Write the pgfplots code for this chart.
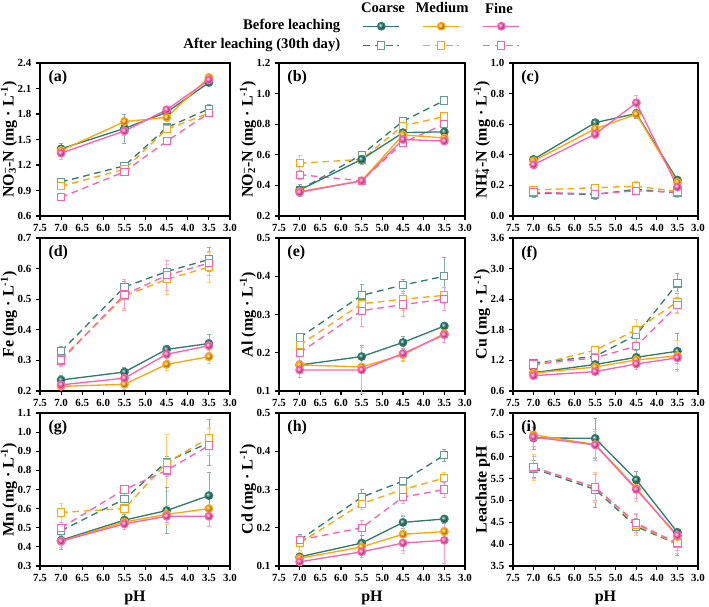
\documentclass[border=0pt]{standalone}
\usepackage{fontspec}
\setmainfont{Liberation Serif}
\usepackage{graphicx}
\usepackage{pgfplots}
\pgfplotsset{compat=1.18}
\definecolor{coarse}{RGB}{46,125,110}
\definecolor{medium}{RGB}{255,165,10}
\definecolor{fine}{RGB}{255,95,175}
\newcommand\lt[1]{{\bfseries\fontsize{11}{12}\selectfont #1}}
\pgfplotsset{
  panel/.style={scale only axis, height=114.75pt, x dir=reverse, xmin=3, xmax=7.5,
    xtick={3,3.5,...,7.5}, axis line style={line width=1.1pt}, tick style={line width=0.8pt, black},
    tick align=outside, tick pos=left, major tick length=3pt,
    /pgf/number format/assume math mode=true,
    xticklabel style={/pgf/number format/.cd, fixed, fixed zerofill, precision=1},
    yticklabel style={/pgf/number format/.cd, fixed, fixed zerofill, precision=1},
    tick label style={font=\bfseries\fontsize{8.2}{9}\selectfont},
    label style={font=\bfseries\fontsize{12}{13}\selectfont},
    ylabel style={yshift=-6.5pt},
    clip=false},
  bl/.style={line width=1pt, mark=ball, mark size=2.8pt},
  al/.style={line width=1pt, dash pattern=on 5pt off 3.5pt, mark=square*, mark size=2.7pt},
  eb/.style={error bars/.cd, y dir=both, y explicit,
    error bar style={line width=0.5pt, draw=#1!60, solid},
    error mark options={rotate=90, mark size=1.5pt, draw=#1!60, solid}},
  cbl/.style={bl, coarse, mark options={ball color=coarse}},
  mbl/.style={bl, medium, mark options={ball color=medium}},
  fbl/.style={bl, fine, mark options={ball color=fine}},
  cal/.style={al, coarse, mark options={solid, fill=white, draw=coarse!75, line width=0.8pt}},
  mal/.style={al, medium, mark options={solid, fill=white, draw=medium, line width=0.8pt}},
  fal/.style={al, fine, mark options={solid, fill=white, draw=fine, line width=0.8pt}},
  cb/.style={cbl, eb=coarse}, mb/.style={mbl, eb=medium}, fb/.style={fbl, eb=fine},
  ca/.style={cal, eb=coarse}, ma/.style={mal, eb=medium}, fa/.style={fal, eb=fine},
}
\begin{document}
\begin{tikzpicture}
\useasboundingbox (0,0) rectangle (531.75pt,454.5pt);
% legend
\begin{axis}[at={(0,0)}, anchor=south west, scale only axis, width=531.75pt, height=454.5pt,
  xmin=0, xmax=709, ymin=0, ymax=606, y dir=reverse, hide axis, clip=false,
  legend columns=3,
  legend image code/.code={\draw[mark repeat=2,mark phase=2] plot coordinates {(0pt,0pt) (13.5pt,0pt) (27pt,0pt)};},
  legend style={at={(axis cs:442,35.5)}, anchor=center, draw=none, fill=none,
    nodes={inner sep=0pt}, column sep=0pt, row sep=8.5pt,
    /tikz/every even column/.append style={column sep=16pt}}]
\addlegendimage{cbl}\addlegendentry{}
\addlegendimage{mbl}\addlegendentry{}
\addlegendimage{fbl}\addlegendentry{}
\addlegendimage{cal}\addlegendentry{}
\addlegendimage{mal}\addlegendentry{}
\addlegendimage{fal}\addlegendentry{}
\node at (axis cs:383,8) {\lt{Coarse}};
\node at (axis cs:442,8) {\lt{Medium}};
\node at (axis cs:499,8) {\lt{Fine}};
\node[anchor=east] at (axis cs:345,26) {\lt{Before leaching}};
\node[anchor=east] at (axis cs:345,45) {\lt{After leaching (30th day)}};
\end{axis}
% (a)
\begin{axis}[panel, at={(30pt,292.5pt)}, anchor=south west, width=142.5pt,
  ymin=0.6, ymax=2.4, ytick={0.6,0.9,...,2.4},
  ylabel={NO\rlap{\textsubscript{3}}\textsuperscript{--}-N (mg · L\textsuperscript{-1})}]
\addplot[ca] coordinates {(7,1.00)+-(0,0.02) (5.5,1.19)+-(0,0.02) (4.5,1.64)+-(0,0.04) (3.5,1.86)+-(0,0.05)};
\addplot[ma] coordinates {(7,0.95)+-(0,0.02) (5.5,1.15)+-(0,0.02) (4.5,1.62)+-(0,0.04) (3.5,1.81)+-(0,0.02)};
\addplot[fa] coordinates {(7,0.82)+-(0,0.02) (5.5,1.12)+-(0,0.02) (4.5,1.48)+-(0,0.02) (3.5,1.81)+-(0,0.02)};
\addplot[cb] coordinates {(7,1.39)+-(0,0.07) (5.5,1.63)+-(0,0.17) (4.5,1.82)+-(0,0.04) (3.5,2.17)+-(0,0.03)};
\addplot[mb] coordinates {(7,1.37)+-(0,0.05) (5.5,1.71)+-(0,0.05) (4.5,1.76)+-(0,0.05) (3.5,2.23)+-(0,0.03)};
\addplot[fb] coordinates {(7,1.34)+-(0,0.07) (5.5,1.60)+-(0,0.05) (4.5,1.85)+-(0,0.03) (3.5,2.20)+-(0,0.04)};
\node[anchor=north west, font=\bfseries\fontsize{12}{13}\selectfont] at (rel axis cs:0.02,0.98) {(a)};
\end{axis}
% (b)
\begin{axis}[panel, at={(209.25pt,292.5pt)}, anchor=south west, width=139.5pt,
  ymin=0.2, ymax=1.2, ytick={0.2,0.4,...,1.2},
  ylabel={NO\rlap{\textsubscript{2}}\textsuperscript{--}-N (mg · L\textsuperscript{-1})}]
\addplot[ca] coordinates {(7,0.37)+-(0,0.02) (5.5,0.60)+-(0,0.02) (4.5,0.82)+-(0,0.02) (3.5,0.955)+-(0,0.02)};
\addplot[ma] coordinates {(7,0.545)+-(0,0.05) (5.5,0.57)+-(0,0.02) (4.5,0.79)+-(0,0.02) (3.5,0.85)+-(0,0.03)};
\addplot[fa] coordinates {(7,0.47)+-(0,0.03) (5.5,0.43)+-(0,0.02) (4.5,0.68)+-(0,0.02) (3.5,0.80)+-(0,0.02)};
\addplot[cb] coordinates {(7,0.37)+-(0,0.04) (5.5,0.57)+-(0,0.03) (4.5,0.745)+-(0,0.03) (3.5,0.75)+-(0,0.02)};
\addplot[mb] coordinates {(7,0.36)+-(0,0.02) (5.5,0.43)+-(0,0.02) (4.5,0.73)+-(0,0.02) (3.5,0.71)+-(0,0.02)};
\addplot[fb] coordinates {(7,0.355)+-(0,0.02) (5.5,0.43)+-(0,0.02) (4.5,0.70)+-(0,0.02) (3.5,0.69)+-(0,0.02)};
\node[anchor=north west, font=\bfseries\fontsize{12}{13}\selectfont] at (rel axis cs:0.02,0.98) {(b)};
\end{axis}
% (c)
\begin{axis}[panel, at={(384.75pt,292.5pt)}, anchor=south west, width=138.75pt,
  ymin=0, ymax=1.0, ytick={0,0.2,...,1.0},
  ylabel={NH\rlap{\textsubscript{4}}\textsuperscript{+}-N (mg · L\textsuperscript{-1})}]
\addplot[ca] coordinates {(7,0.15)+-(0,0.03) (5.5,0.14)+-(0,0.03) (4.5,0.175)+-(0,0.03) (3.5,0.15)+-(0,0.03)};
\addplot[ma] coordinates {(7,0.17)+-(0,0.01) (5.5,0.185)+-(0,0.01) (4.5,0.195)+-(0,0.03) (3.5,0.16)+-(0,0.01)};
\addplot[fa] coordinates {(7,0.155)+-(0,0.01) (5.5,0.145)+-(0,0.03) (4.5,0.165)+-(0,0.02) (3.5,0.155)+-(0,0.03)};
\addplot[cb] coordinates {(7,0.37)+-(0,0.02) (5.5,0.61)+-(0,0.01) (4.5,0.67)+-(0,0.03) (3.5,0.235)+-(0,0.02)};
\addplot[mb] coordinates {(7,0.36)+-(0,0.02) (5.5,0.57)+-(0,0.01) (4.5,0.665)+-(0,0.02) (3.5,0.22)+-(0,0.02)};
\addplot[fb] coordinates {(7,0.335)+-(0,0.02) (5.5,0.535)+-(0,0.03) (4.5,0.74)+-(0,0.05) (3.5,0.19)+-(0,0.02)};
\node[anchor=north west, font=\bfseries\fontsize{12}{13}\selectfont] at (rel axis cs:0.02,0.98) {(c)};
\end{axis}
% (d)
\begin{axis}[panel, at={(30pt,161.25pt)}, anchor=south west, width=142.5pt,
  ymin=0.2, ymax=0.7, ytick={0.2,0.3,...,0.7},
  ylabel={Fe (mg · L\textsuperscript{-1})}]
\addplot[ca] coordinates {(7,0.330)+-(0,0.015) (5.5,0.540)+-(0,0.02) (4.5,0.590)+-(0,0.01) (3.5,0.630)+-(0,0.04)};
\addplot[ma] coordinates {(7,0.305)+-(0,0.02) (5.5,0.510)+-(0,0.04) (4.5,0.565)+-(0,0.05) (3.5,0.605)+-(0,0.05)};
\addplot[fa] coordinates {(7,0.300)+-(0,0.02) (5.5,0.515)+-(0,0.05) (4.5,0.578)+-(0,0.05) (3.5,0.618)+-(0,0.04)};
\addplot[cb] coordinates {(7,0.236)+-(0,0.015) (5.5,0.262)+-(0,0.015) (4.5,0.336)+-(0,0.015) (3.5,0.355)+-(0,0.03)};
\addplot[mb] coordinates {(7,0.215)+-(0,0.005) (5.5,0.222)+-(0,0.015) (4.5,0.287)+-(0,0.02) (3.5,0.312)+-(0,0.02)};
\addplot[fb] coordinates {(7,0.220)+-(0,0.01) (5.5,0.242)+-(0,0.01) (4.5,0.320)+-(0,0.02) (3.5,0.348)+-(0,0.02)};
\node[anchor=north west, font=\bfseries\fontsize{12}{13}\selectfont] at (rel axis cs:0.02,0.98) {(d)};
\end{axis}
% (e)
\begin{axis}[panel, at={(209.25pt,161.25pt)}, anchor=south west, width=139.5pt,
  ymin=0.1, ymax=0.5, ytick={0.1,0.2,...,0.5},
  ylabel={Al (mg · L\textsuperscript{-1})}]
\addplot[ca] coordinates {(7,0.240)+-(0,0.01) (5.5,0.350)+-(0,0.03) (4.5,0.377)+-(0,0.015) (3.5,0.400)+-(0,0.05)};
\addplot[ma] coordinates {(7,0.220)+-(0,0.01) (5.5,0.328)+-(0,0.02) (4.5,0.340)+-(0,0.03) (3.5,0.350)+-(0,0.02)};
\addplot[fa] coordinates {(7,0.200)+-(0,0.02) (5.5,0.310)+-(0,0.04) (4.5,0.326)+-(0,0.03) (3.5,0.340)+-(0,0.03)};
\addplot[cb] coordinates {(7,0.168)+-(0,0.01) (5.5,0.190)+-(0,0.03) (4.5,0.227)+-(0,0.015) (3.5,0.270)+-(0,0.01)};
\addplot[mb] coordinates {(7,0.168)+-(0,0.01) (5.5,0.163)+-(0,0.01) (4.5,0.195)+-(0,0.015) (3.5,0.250)+-(0,0.01)};
\addplot[fb] coordinates {(7,0.155)+-(0,0.02) (5.5,0.155)+-(0,0.06) (4.5,0.198)+-(0,0.02) (3.5,0.247)+-(0,0.02)};
\node[anchor=north west, font=\bfseries\fontsize{12}{13}\selectfont] at (rel axis cs:0.02,0.98) {(e)};
\end{axis}
% (f)
\begin{axis}[panel, at={(384.75pt,161.25pt)}, anchor=south west, width=138.75pt,
  ymin=0.6, ymax=3.6, ytick={0.6,1.2,...,3.6},
  ylabel={Cu (mg · L\textsuperscript{-1})}]
\addplot[ca] coordinates {(7,1.15)+-(0,0.05) (5.5,1.28)+-(0,0.05) (4.5,1.70)+-(0,0.3) (3.5,2.71)+-(0,0.2)};
\addplot[ma] coordinates {(7,1.10)+-(0,0.05) (5.5,1.40)+-(0,0.05) (4.5,1.80)+-(0,0.2) (3.5,2.35)+-(0,0.2)};
\addplot[fa] coordinates {(7,1.12)+-(0,0.05) (5.5,1.25)+-(0,0.05) (4.5,1.48)+-(0,0.2) (3.5,2.28)+-(0,0.15)};
\addplot[cb] coordinates {(7,0.96)+-(0,0.03) (5.5,1.12)+-(0,0.05) (4.5,1.26)+-(0,0.2) (3.5,1.38)+-(0,0.35)};
\addplot[mb] coordinates {(7,0.95)+-(0,0.03) (5.5,1.07)+-(0,0.05) (4.5,1.21)+-(0,0.1) (3.5,1.29)+-(0,0.3)};
\addplot[fb] coordinates {(7,0.90)+-(0,0.05) (5.5,0.98)+-(0,0.05) (4.5,1.13)+-(0,0.1) (3.5,1.25)+-(0,0.1)};
\node[anchor=north west, font=\bfseries\fontsize{12}{13}\selectfont] at (rel axis cs:0.02,0.98) {(f)};
\end{axis}
% (g)
\begin{axis}[panel, at={(30pt,30pt)}, anchor=south west, width=142.5pt,
  ymin=0.3, ymax=1.1, ytick={0.3,0.4,...,1.1},
  ylabel={Mn (mg · L\textsuperscript{-1})}, xlabel={pH}]
\addplot[ca] coordinates {(7,0.485)+-(0,0.03) (5.5,0.65)+-(0,0.05) (4.5,0.845)+-(0,0.03) (3.5,0.945)+-(0,0.12)};
\addplot[ma] coordinates {(7,0.58)+-(0,0.05) (5.5,0.60)+-(0,0.05) (4.5,0.84)+-(0,0.15) (3.5,0.97)+-(0,0.05)};
\addplot[fa] coordinates {(7,0.50)+-(0,0.03) (5.5,0.70)+-(0,0.02) (4.5,0.80)+-(0,0.03) (3.5,0.93)+-(0,0.05)};
\addplot[cb] coordinates {(7,0.435)+-(0,0.05) (5.5,0.54)+-(0,0.03) (4.5,0.59)+-(0,0.12) (3.5,0.668)+-(0,0.12)};
\addplot[mb] coordinates {(7,0.43)+-(0,0.03) (5.5,0.53)+-(0,0.03) (4.5,0.57)+-(0,0.05) (3.5,0.60)+-(0,0.02)};
\addplot[fb] coordinates {(7,0.43)+-(0,0.03) (5.5,0.52)+-(0,0.03) (4.5,0.56)+-(0,0.03) (3.5,0.56)+-(0,0.05)};
\node[anchor=north west, font=\bfseries\fontsize{12}{13}\selectfont] at (rel axis cs:0.02,0.98) {(g)};
\end{axis}
% (h)
\begin{axis}[panel, at={(209.25pt,30pt)}, anchor=south west, width=139.5pt,
  ymin=0.1, ymax=0.5, ytick={0.1,0.2,...,0.5},
  ylabel={Cd (mg · L\textsuperscript{-1})}, xlabel={pH}]
\addplot[ca] coordinates {(7,0.168)+-(0,0.015) (5.5,0.280)+-(0,0.02) (4.5,0.322)+-(0,0.01) (3.5,0.390)+-(0,0.015)};
\addplot[ma] coordinates {(7,0.160)+-(0,0.02) (5.5,0.263)+-(0,0.015) (4.5,0.300)+-(0,0.01) (3.5,0.330)+-(0,0.015)};
\addplot[fa] coordinates {(7,0.168)+-(0,0.01) (5.5,0.200)+-(0,0.02) (4.5,0.280)+-(0,0.015) (3.5,0.300)+-(0,0.02)};
\addplot[cb] coordinates {(7,0.124)+-(0,0.01) (5.5,0.160)+-(0,0.02) (4.5,0.214)+-(0,0.015) (3.5,0.223)+-(0,0.01)};
\addplot[mb] coordinates {(7,0.120)+-(0,0.01) (5.5,0.150)+-(0,0.02) (4.5,0.183)+-(0,0.05) (3.5,0.190)+-(0,0.01)};
\addplot[fb] coordinates {(7,0.111)+-(0,0.01) (5.5,0.137)+-(0,0.015) (4.5,0.160)+-(0,0.02) (3.5,0.167)+-(0,0.06)};
\node[anchor=north west, font=\bfseries\fontsize{12}{13}\selectfont] at (rel axis cs:0.02,0.98) {(h)};
\end{axis}
% (i)
\begin{axis}[panel, at={(384.75pt,30pt)}, anchor=south west, width=138.75pt,
  ymin=3.5, ymax=7.0, ytick={3.5,4.0,...,7.0},
  ylabel={Leachate pH}, xlabel={pH}]
\addplot[ca] coordinates {(7,5.73)+-(0,0.2) (5.5,5.25)+-(0,0.4) (4.5,4.40)+-(0,0.2) (3.5,4.00)+-(0,0.25)};
\addplot[ma] coordinates {(7,5.75)+-(0,0.3) (5.5,5.30)+-(0,0.35) (4.5,4.45)+-(0,0.25) (3.5,4.00)+-(0,0.2)};
\addplot[fa] coordinates {(7,5.76)+-(0,0.25) (5.5,5.30)+-(0,0.3) (4.5,4.48)+-(0,0.2) (3.5,4.02)+-(0,0.15)};
\addplot[cb] coordinates {(7,6.43)+-(0,0.25) (5.5,6.42)+-(0,0.45) (4.5,5.47)+-(0,0.2) (3.5,4.27)+-(0,0.05)};
\addplot[mb] coordinates {(7,6.50)+-(0,0.15) (5.5,6.28)+-(0,0.3) (4.5,5.28)+-(0,0.3) (3.5,4.17)+-(0,0.05)};
\addplot[fb] coordinates {(7,6.45)+-(0,0.2) (5.5,6.27)+-(0,0.35) (4.5,5.25)+-(0,0.2) (3.5,4.20)+-(0,0.1)};
\node[anchor=north west, font=\bfseries\fontsize{12}{13}\selectfont] at (rel axis cs:0.02,0.98) {(i)};
\end{axis}
\end{tikzpicture}
\end{document}
